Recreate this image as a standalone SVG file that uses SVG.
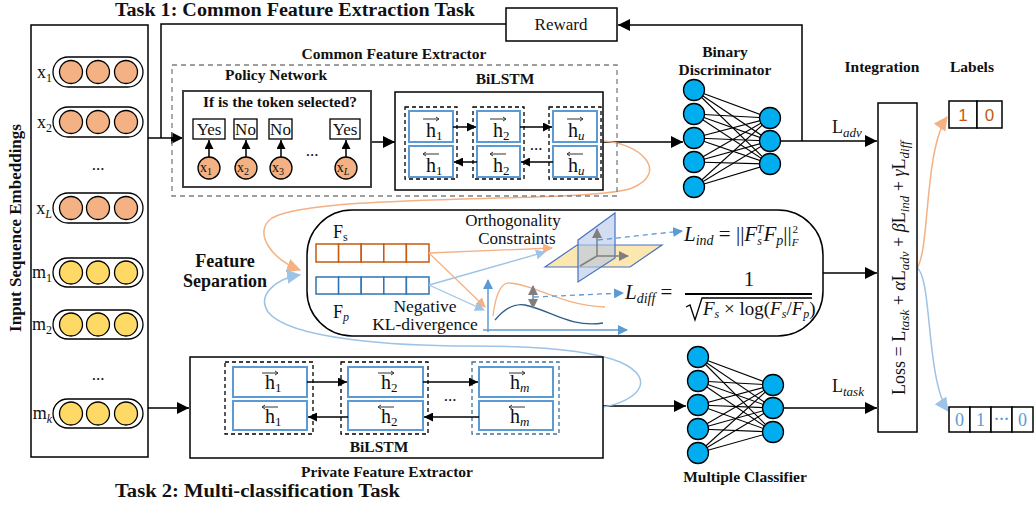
<svg xmlns="http://www.w3.org/2000/svg" xmlns:xlink="http://www.w3.org/1999/xlink" width="1034" height="507" viewBox="0 0 1034 507">
<style>
text{font-family:"Liberation Serif","DejaVu Serif",serif;fill:#111}
.b{font-weight:bold}
.t1{font-size:18.5px;font-weight:bold}
.lb{font-size:15.5px;font-weight:bold}
.r16{font-size:17px}
.h{font-size:20px}
.sb{font-size:12px}
.it{font-style:italic}
.ln{fill:none;stroke:#000;stroke-width:1.5}
.cell{fill:#fff;stroke:#5b9bd5;stroke-width:2}
.grp{fill:none;stroke:#000;stroke-width:1.3;stroke-dasharray:4 3}
.oc{fill:#f4b183;stroke:#000;stroke-width:1.3}
.yc{fill:#ffd966;stroke:#000;stroke-width:1.3}
.nn{fill:#00aeef;stroke:#000;stroke-width:1.3}
.nl{stroke:#000;stroke-width:1.1}
.ocv{fill:none;stroke:#f4b183;stroke-width:1.5}
.bcv{fill:none;stroke:#9dc3e6;stroke-width:1.5}
</style>
<defs>
<marker id="ah" markerUnits="userSpaceOnUse" markerWidth="12" markerHeight="12" refX="12" refY="6" orient="auto"><path d="M0,0 L12,6 L0,12 z" fill="#000"/></marker>
<marker id="as" markerUnits="userSpaceOnUse" markerWidth="9" markerHeight="9" refX="9" refY="4.5" orient="auto"><path d="M0,0 L9,4.5 L0,9 z" fill="#000"/></marker>
<marker id="ao" markerUnits="userSpaceOnUse" markerWidth="14" markerHeight="14" refX="13" refY="7" orient="auto"><path d="M0,0 L14,7 L0,14 z" fill="#f4b183"/></marker>
<marker id="ab" markerUnits="userSpaceOnUse" markerWidth="14" markerHeight="14" refX="13" refY="7" orient="auto"><path d="M0,0 L14,7 L0,14 z" fill="#9dc3e6"/></marker>
<marker id="aos" markerUnits="userSpaceOnUse" markerWidth="10" markerHeight="10" refX="9" refY="5" orient="auto"><path d="M0,0 L10,5 L0,10 z" fill="#f4b183"/></marker>
<marker id="abs" markerUnits="userSpaceOnUse" markerWidth="10" markerHeight="10" refX="9" refY="5" orient="auto"><path d="M0,0 L10,5 L0,10 z" fill="#9dc3e6"/></marker>
<marker id="abd" markerUnits="userSpaceOnUse" markerWidth="10" markerHeight="10" refX="9" refY="5" orient="auto"><path d="M0,0 L10,5 L0,10 z" fill="#5b9bd5"/></marker>
<marker id="ag" markerUnits="userSpaceOnUse" markerWidth="10" markerHeight="10" refX="9" refY="5" orient="auto"><path d="M0,0 L10,5 L0,10 z" fill="#7f7f7f"/></marker>
<marker id="ags" markerUnits="userSpaceOnUse" markerWidth="10" markerHeight="10" refX="1" refY="5" orient="auto"><path d="M10,0 L0,5 L10,10 z" fill="#7f7f7f"/></marker>
<path id="fa" d="M-8,0 H8 M5,-2 L8,0 L5,2" fill="none" stroke="#333" stroke-width="1"/>
<path id="ba" d="M8,0 H-8 M-5,-2 L-8,0 L-5,2" fill="none" stroke="#333" stroke-width="1"/>
</defs>
<rect width="1034" height="507" fill="#fff"/>

<!-- titles -->
<text class="t1" x="115" y="16" textLength="360" lengthAdjust="spacingAndGlyphs">Task 1: Common Feature Extraction Task</text>
<text class="t1" x="115" y="497" textLength="285" lengthAdjust="spacingAndGlyphs">Task 2: Multi-classification Task</text>

<!-- connectors -->
<g id="connectors">
<polyline class="ln" points="506,24 161,24 161,138"/>
<line class="ln" x1="148" y1="138" x2="183" y2="138" marker-end="url(#ah)"/>
<line class="ln" x1="371" y1="142" x2="395" y2="142" marker-end="url(#ah)"/>
<line class="ln" x1="603" y1="142" x2="683" y2="142" marker-end="url(#ah)"/>
<line class="ln" x1="780" y1="141" x2="877" y2="141" marker-end="url(#ah)"/>
<polyline class="ln" points="802,141 802,25 618,25" marker-end="url(#ah)"/>
<line class="ln" x1="143" y1="408" x2="189" y2="408" marker-end="url(#ah)"/>
<line class="ln" x1="603" y1="406" x2="686" y2="406" marker-end="url(#ah)"/>
<line class="ln" x1="783" y1="408" x2="877" y2="408" marker-end="url(#ah)"/>
<line class="ln" x1="823" y1="273" x2="877" y2="273" marker-end="url(#ah)"/>
<path class="ocv" d="M603,141 C640,143 670,172 632,188 C590,204 320,192 272,218 C252,232 272,260 300,270" marker-end="url(#ao)"/>
<path class="bcv" d="M603,407 C635,402 660,380 620,362 C585,348 520,346 470,346 C400,346 290,340 268,312 C256,294 278,278 300,275" marker-end="url(#ab)"/>
<path class="ocv" d="M917,268 C930,250 924,150 947,117" marker-end="url(#ao)"/>
<path class="bcv" d="M917,268 C932,276 926,380 948,411" marker-end="url(#ab)"/>
<text font-size="18" x="832" y="133">L<tspan class="it" font-size="13" dy="4">adv</tspan></text>
<text font-size="18" x="832" y="392">L<tspan class="it" font-size="13" dy="4">task</tspan></text>
</g>

<!-- input panel -->
<g id="input-embeddings">
<rect x="31" y="25" width="117" height="432" fill="#fff" stroke="#000" stroke-width="1.5"/>
<text class="b" font-size="17" transform="translate(21,228) rotate(-90)" text-anchor="middle">Input Sequence Embeddings</text>
<rect x="53" y="57" width="90" height="30" rx="15" fill="#fff" stroke="#000" stroke-width="1.3"/>
<circle class="oc" cx="71" cy="72" r="11.5"/><circle class="oc" cx="98" cy="72" r="11.5"/><circle class="oc" cx="126" cy="72" r="11.5"/>
<text font-size="18" x="52" y="78" text-anchor="end">x<tspan class="sb" dy="4">1</tspan></text>
<rect x="53" y="107" width="90" height="30" rx="15" fill="#fff" stroke="#000" stroke-width="1.3"/>
<circle class="oc" cx="71" cy="122" r="11.5"/><circle class="oc" cx="98" cy="122" r="11.5"/><circle class="oc" cx="126" cy="122" r="11.5"/>
<text font-size="18" x="52" y="128" text-anchor="end">x<tspan class="sb" dy="4">2</tspan></text>
<text class="r16" x="98" y="170" text-anchor="middle">...</text>
<rect x="53" y="193" width="90" height="30" rx="15" fill="#fff" stroke="#000" stroke-width="1.3"/>
<circle class="oc" cx="71" cy="208" r="11.5"/><circle class="oc" cx="98" cy="208" r="11.5"/><circle class="oc" cx="126" cy="208" r="11.5"/>
<text font-size="18" x="52" y="214" text-anchor="end">x<tspan class="sb it" dy="4">L</tspan></text>
<rect x="53" y="258" width="90" height="29" rx="14.5" fill="#fff" stroke="#000" stroke-width="1.3"/>
<circle class="yc" cx="71" cy="272.5" r="11.5"/><circle class="yc" cx="98" cy="272.5" r="11.5"/><circle class="yc" cx="126" cy="272.5" r="11.5"/>
<text font-size="18" x="52" y="278" text-anchor="end">m<tspan class="sb" dy="4">1</tspan></text>
<rect x="53" y="310" width="90" height="29" rx="14.5" fill="#fff" stroke="#000" stroke-width="1.3"/>
<circle class="yc" cx="71" cy="324.5" r="11.5"/><circle class="yc" cx="98" cy="324.5" r="11.5"/><circle class="yc" cx="126" cy="324.5" r="11.5"/>
<text font-size="18" x="52" y="330" text-anchor="end">m<tspan class="sb" dy="4">2</tspan></text>
<text class="r16" x="98" y="380" text-anchor="middle">...</text>
<rect x="53" y="399" width="90" height="29" rx="14.5" fill="#fff" stroke="#000" stroke-width="1.3"/>
<circle class="yc" cx="71" cy="413.5" r="11.5"/><circle class="yc" cx="98" cy="413.5" r="11.5"/><circle class="yc" cx="126" cy="413.5" r="11.5"/>
<text font-size="18" x="52" y="419" text-anchor="end">m<tspan class="sb it" dy="4">k</tspan></text>
</g>

<!-- reward -->
<g id="reward">
<rect x="506" y="8" width="111" height="33" fill="#fff" stroke="#000" stroke-width="1.5"/>
<text class="r16" x="561" y="30" text-anchor="middle">Reward</text>
</g>

<!-- common feature extractor -->
<g id="common-feature-extractor">
<rect x="172" y="65" width="445" height="131" fill="none" stroke="#7f7f7f" stroke-width="1.3" stroke-dasharray="5 4"/>
<text class="lb" x="394" y="59" text-anchor="middle">Common Feature Extractor</text>
</g>

<g id="policy-network">
<text class="lb" x="276" y="80" text-anchor="middle">Policy Network</text>
<rect x="183" y="91" width="188" height="96" fill="#fff" stroke="#404040" stroke-width="2"/>
<text class="b" font-size="15.5" x="280" y="107" text-anchor="middle">If is the token selected?</text>
<rect x="193" y="119" width="32" height="20" fill="#fff" stroke="#000" stroke-width="1.3"/>
<rect x="234" y="119" width="23" height="20" fill="#fff" stroke="#000" stroke-width="1.3"/>
<rect x="269" y="119" width="23" height="20" fill="#fff" stroke="#000" stroke-width="1.3"/>
<rect x="330" y="119" width="30" height="20" fill="#fff" stroke="#000" stroke-width="1.3"/>
<text class="r16" x="209" y="135" text-anchor="middle">Yes</text>
<text class="r16" x="245.5" y="135" text-anchor="middle">No</text>
<text class="r16" x="280.5" y="135" text-anchor="middle">No</text>
<text class="r16" x="345" y="135" text-anchor="middle">Yes</text>
<line class="ln" x1="209" y1="157" x2="209" y2="140" marker-end="url(#as)"/>
<line class="ln" x1="246" y1="157" x2="246" y2="140" marker-end="url(#as)"/>
<line class="ln" x1="281" y1="157" x2="281" y2="140" marker-end="url(#as)"/>
<line class="ln" x1="346" y1="157" x2="346" y2="140" marker-end="url(#as)"/>
<circle class="oc" cx="209" cy="168" r="11"/><circle class="oc" cx="246" cy="168" r="11"/><circle class="oc" cx="281" cy="168" r="11"/><circle class="oc" cx="346" cy="168" r="11"/>
<text font-size="14" x="206" y="172" text-anchor="middle">x<tspan font-size="10" dy="3">1</tspan></text>
<text font-size="14" x="243" y="172" text-anchor="middle">x<tspan font-size="10" dy="3">2</tspan></text>
<text font-size="14" x="278" y="172" text-anchor="middle">x<tspan font-size="10" dy="3">3</tspan></text>
<text font-size="14" x="343" y="172" text-anchor="middle">x<tspan font-size="10" class="it" dy="3">L</tspan></text>
<text class="r16" x="312" y="156" text-anchor="middle">...</text>
</g>

<g id="bilstm-common">
<text class="lb" x="505" y="84" text-anchor="middle">BiLSTM</text>
<rect x="395" y="92" width="208" height="98" fill="#fff" stroke="#000" stroke-width="1.5"/>
<rect class="grp" x="405" y="107" width="52" height="72"/>
<rect class="grp" x="473" y="107" width="51" height="72"/>
<rect class="grp" x="549" y="107" width="52" height="72"/>
<rect class="cell" x="409" y="111" width="44" height="31"/><rect class="cell" x="409" y="146" width="44" height="31"/>
<rect class="cell" x="477" y="111" width="43" height="31"/><rect class="cell" x="477" y="146" width="43" height="31"/>
<rect class="cell" x="553" y="111" width="44" height="31"/><rect class="cell" x="553" y="146" width="44" height="31"/>
<line class="ln" x1="453" y1="127" x2="476" y2="127" marker-end="url(#as)"/>
<line class="ln" x1="520" y1="127" x2="552" y2="127" marker-end="url(#as)"/>
<line class="ln" x1="477" y1="162" x2="454" y2="162" marker-end="url(#as)"/>
<line class="ln" x1="553" y1="162" x2="521" y2="162" marker-end="url(#as)"/>
<text class="r16" x="536" y="150" text-anchor="middle">...</text>
<use href="#fa" x="431" y="119"/><use href="#ba" x="431" y="154"/>
<use href="#fa" x="498" y="119"/><use href="#ba" x="498" y="154"/>
<use href="#fa" x="575" y="119"/><use href="#ba" x="575" y="154"/>
<text class="h" x="426" y="137">h<tspan font-size="13" dy="3">1</tspan></text>
<text class="h" x="426" y="172">h<tspan font-size="13" dy="3">1</tspan></text>
<text class="h" x="493" y="137">h<tspan font-size="13" dy="3">2</tspan></text>
<text class="h" x="493" y="172">h<tspan font-size="13" dy="3">2</tspan></text>
<text class="h" x="568" y="137">h<tspan class="it" font-size="13" dy="3">u</tspan></text>
<text class="h" x="568" y="172">h<tspan class="it" font-size="13" dy="3">u</tspan></text>
</g>

<!-- binary discriminator -->
<g id="binary-discriminator">
<text class="lb" x="725" y="57" text-anchor="middle">Binary</text>
<text class="lb" x="725" y="75" text-anchor="middle">Discriminator</text>
<g class="nl">
<line x1="694" y1="90" x2="770" y2="118"/><line x1="694" y1="90" x2="770" y2="141"/><line x1="694" y1="90" x2="770" y2="164"/>
<line x1="694" y1="114" x2="770" y2="118"/><line x1="694" y1="114" x2="770" y2="141"/><line x1="694" y1="114" x2="770" y2="164"/>
<line x1="694" y1="138" x2="770" y2="118"/><line x1="694" y1="138" x2="770" y2="141"/><line x1="694" y1="138" x2="770" y2="164"/>
<line x1="694" y1="162" x2="770" y2="118"/><line x1="694" y1="162" x2="770" y2="141"/><line x1="694" y1="162" x2="770" y2="164"/>
<line x1="694" y1="187" x2="770" y2="118"/><line x1="694" y1="187" x2="770" y2="141"/><line x1="694" y1="187" x2="770" y2="164"/>
</g>
<circle class="nn" cx="694" cy="90" r="10.5"/><circle class="nn" cx="694" cy="114" r="10.5"/><circle class="nn" cx="694" cy="138" r="10.5"/><circle class="nn" cx="694" cy="162" r="10.5"/><circle class="nn" cx="694" cy="187" r="10.5"/>
<circle class="nn" cx="770" cy="118" r="10.5"/><circle class="nn" cx="770" cy="141" r="10.5"/><circle class="nn" cx="770" cy="164" r="10.5"/>
</g>

<!-- multiple classifier -->
<g id="multiple-classifier">
<text class="lb" x="745" y="482" text-anchor="middle">Multiple Classifier</text>
<g class="nl">
<line x1="698" y1="357" x2="773" y2="385"/><line x1="698" y1="357" x2="773" y2="408"/><line x1="698" y1="357" x2="773" y2="432"/>
<line x1="698" y1="381" x2="773" y2="385"/><line x1="698" y1="381" x2="773" y2="408"/><line x1="698" y1="381" x2="773" y2="432"/>
<line x1="698" y1="405" x2="773" y2="385"/><line x1="698" y1="405" x2="773" y2="408"/><line x1="698" y1="405" x2="773" y2="432"/>
<line x1="698" y1="429" x2="773" y2="385"/><line x1="698" y1="429" x2="773" y2="408"/><line x1="698" y1="429" x2="773" y2="432"/>
<line x1="698" y1="453" x2="773" y2="385"/><line x1="698" y1="453" x2="773" y2="408"/><line x1="698" y1="453" x2="773" y2="432"/>
</g>
<circle class="nn" cx="698" cy="357" r="10.5"/><circle class="nn" cx="698" cy="381" r="10.5"/><circle class="nn" cx="698" cy="405" r="10.5"/><circle class="nn" cx="698" cy="429" r="10.5"/><circle class="nn" cx="698" cy="453" r="10.5"/>
<circle class="nn" cx="773" cy="385" r="10.5"/><circle class="nn" cx="773" cy="408" r="10.5"/><circle class="nn" cx="773" cy="432" r="10.5"/>
</g>

<!-- private feature extractor -->
<g id="private-feature-extractor">
<rect x="190" y="357" width="413" height="101" fill="#fff" stroke="#000" stroke-width="1.5"/>
<text class="lb" x="379" y="452" text-anchor="middle">BiLSTM</text>
<text class="lb" x="387" y="477" text-anchor="middle">Private Feature Extractor</text>
<rect class="grp" x="225" y="362" width="88" height="72"/>
<rect class="grp" x="341" y="362" width="87" height="72"/>
<rect x="472" y="362" width="87" height="72" fill="none" stroke="#41719c" stroke-width="1.3" stroke-dasharray="4 3"/>
<rect class="cell" x="233" y="367" width="74" height="30"/><rect class="cell" x="233" y="401" width="74" height="29"/>
<rect class="cell" x="348" y="367" width="75" height="30"/><rect class="cell" x="348" y="401" width="75" height="29"/>
<rect class="cell" x="479" y="367" width="74" height="30"/><rect class="cell" x="479" y="401" width="74" height="29"/>
<line class="ln" x1="307" y1="382" x2="347" y2="382" marker-end="url(#as)"/>
<line class="ln" x1="423" y1="382" x2="478" y2="382" marker-end="url(#as)"/>
<line class="ln" x1="348" y1="417" x2="308" y2="417" marker-end="url(#as)"/>
<line class="ln" x1="479" y1="417" x2="424" y2="417" marker-end="url(#as)"/>
<text class="r16" x="450" y="401" text-anchor="middle">...</text>
<use href="#fa" x="270" y="373"/><use href="#ba" x="270" y="407"/>
<use href="#fa" x="386" y="373"/><use href="#ba" x="386" y="407"/>
<use href="#fa" x="517" y="373"/><use href="#ba" x="517" y="407"/>
<text class="h" x="265" y="389">h<tspan font-size="13" dy="3">1</tspan></text>
<text class="h" x="265" y="423">h<tspan font-size="13" dy="3">1</tspan></text>
<text class="h" x="381" y="389">h<tspan font-size="13" dy="3">2</tspan></text>
<text class="h" x="381" y="423">h<tspan font-size="13" dy="3">2</tspan></text>
<text class="h" x="510" y="389">h<tspan class="it" font-size="13" dy="3">m</tspan></text>
<text class="h" x="510" y="423">h<tspan class="it" font-size="13" dy="3">m</tspan></text>
</g>

<!-- feature separation -->
<g id="feature-separation">
<text class="b" font-size="18" x="225" y="267" text-anchor="middle">Feature</text>
<text class="b" font-size="18" x="225" y="287" text-anchor="middle">Separation</text>
<rect x="307" y="210" width="516" height="126" rx="45" fill="none" stroke="#000" stroke-width="1.5"/>
<text font-size="18" x="333" y="238">F<tspan class="sb" dy="3">s</tspan></text>
<text font-size="18" x="333" y="318">F<tspan class="sb it" dy="3">p</tspan></text>
<g fill="#fff" stroke="#c55a11" stroke-width="1.5">
<rect x="316" y="244" width="22.6" height="18"/><rect x="338.6" y="244" width="22.6" height="18"/><rect x="361.2" y="244" width="22.6" height="18"/><rect x="383.8" y="244" width="22.6" height="18"/><rect x="406.4" y="244" width="22.6" height="18"/>
</g>
<g fill="#fff" stroke="#2e75b6" stroke-width="1.5">
<rect x="316" y="277" width="22.6" height="17"/><rect x="338.6" y="277" width="22.6" height="17"/><rect x="361.2" y="277" width="22.6" height="17"/><rect x="383.8" y="277" width="22.6" height="17"/><rect x="406.4" y="277" width="22.6" height="17"/>
</g>
<text font-size="17.5" x="425" y="312" text-anchor="middle">Negative</text>
<text font-size="17.5" x="425" y="330" text-anchor="middle">KL-divergence</text>
<text font-size="17" x="513" y="226" text-anchor="middle">Orthogonality</text>
<text font-size="17" x="517" y="244" text-anchor="middle">Constraints</text>
<line x1="429" y1="253" x2="552" y2="248" stroke="#f4b183" stroke-width="1.3" marker-end="url(#aos)"/>
<line x1="429" y1="285" x2="545" y2="252" stroke="#9dc3e6" stroke-width="1.3" marker-end="url(#abs)"/>
<line x1="429" y1="253" x2="485" y2="307" stroke="#f4b183" stroke-width="1.3" marker-end="url(#aos)"/>
<line x1="429" y1="285" x2="484" y2="310" stroke="#9dc3e6" stroke-width="1.3" marker-end="url(#abs)"/>
<!-- planes -->
<polygon points="545,267 577,245 662,245 630,267" fill="#fde7b0" stroke="#4472c4" stroke-width="1.2"/>
<polygon points="578,240 615,213 615,258 578,282" fill="#b4c7e7" fill-opacity="0.6" stroke="#4472c4" stroke-width="1.2"/>
<line x1="597" y1="256" x2="597" y2="229" stroke="#7f7f7f" stroke-width="1.5" marker-end="url(#ag)"/>
<line x1="597" y1="256" x2="628" y2="256" stroke="#7f7f7f" stroke-width="1.5" marker-end="url(#ag)"/>
<line x1="597" y1="256" x2="580" y2="266" stroke="#7f7f7f" stroke-width="1.5"/>
<line x1="598" y1="240" x2="682" y2="231" stroke="#5b9bd5" stroke-width="1.3" stroke-dasharray="5 4" marker-end="url(#abd)"/>
<!-- chart -->
<line x1="488" y1="332" x2="488" y2="280" stroke="#5b9bd5" stroke-width="1.5" marker-end="url(#abd)"/>
<line x1="483" y1="330" x2="627" y2="330" stroke="#5b9bd5" stroke-width="1.5" marker-end="url(#abd)"/>
<path d="M493,316 C496,290 503,282 510,283 C540,286 560,305 605,307" fill="none" stroke="#f4b183" stroke-width="1.3"/>
<path d="M495,320 C505,308 515,303 525,305 C550,310 570,328 603,323" fill="none" stroke="#2e5f8a" stroke-width="1.3"/>
<line x1="533" y1="286" x2="533" y2="308" stroke="#7f7f7f" stroke-width="1.5" marker-start="url(#ags)" marker-end="url(#ag)"/>
<line x1="534" y1="297" x2="623" y2="293" stroke="#5b9bd5" stroke-width="1.3" stroke-dasharray="5 4" marker-end="url(#abd)"/>
<!-- formulas -->
<text font-size="21" x="684" y="241"><tspan class="it">L</tspan><tspan class="it" font-size="14" dy="4">ind</tspan><tspan dy="-4"> = ||</tspan><tspan class="it">F</tspan><tspan class="it" font-size="12" dy="4">s</tspan><tspan class="it" font-size="12" dx="-5" dy="-12">T</tspan><tspan class="it" dy="8">F</tspan><tspan class="it" font-size="14" dy="4">p</tspan><tspan dy="-4">||</tspan><tspan class="it" font-size="11" dy="5">F</tspan><tspan font-size="11" dx="-6" dy="-13">2</tspan></text>
<text font-size="21" x="625" y="299"><tspan class="it">L</tspan><tspan class="it" font-size="14" dy="4">diff</tspan><tspan dy="-4"> =</tspan></text>
<text font-size="21" x="749" y="286" text-anchor="middle">1</text>
<line x1="685" y1="294" x2="812" y2="294" stroke="#000" stroke-width="2"/>
<path d="M686,307 L690,305 L695,320 L702,298 L812,298" fill="none" stroke="#000" stroke-width="1.3"/>
<text font-size="19" x="703" y="315"><tspan class="it">F</tspan><tspan class="it" font-size="12" dy="3">s</tspan><tspan dy="-3"> × log(</tspan><tspan class="it">F</tspan><tspan class="it" font-size="12" dy="3">s</tspan><tspan dy="-3">/</tspan><tspan class="it">F</tspan><tspan class="it" font-size="12" dy="3">p</tspan><tspan dy="-3">)</tspan></text>
</g>

<!-- integration -->
<g id="integration">
<text class="lb" x="882" y="72" text-anchor="middle">Integration</text>
<rect x="878" y="103" width="39" height="329" fill="#fff" stroke="#000" stroke-width="1.5"/>
<text font-size="18" transform="translate(905,268) rotate(-90)" text-anchor="middle">Loss = L<tspan class="it" font-size="13" dy="4">task</tspan><tspan dy="-4"> + </tspan><tspan class="it">α</tspan>L<tspan class="it" font-size="13" dy="4">adv</tspan><tspan dy="-4"> + </tspan><tspan class="it">β</tspan>L<tspan class="it" font-size="13" dy="4">ind</tspan><tspan dy="-4"> + </tspan><tspan class="it">γ</tspan>L<tspan class="it" font-size="13" dy="4">diff</tspan></text>
</g>

<!-- labels -->
<g id="labels">
<text class="lb" x="972" y="72" text-anchor="middle">Labels</text>
<rect x="949" y="101" width="28" height="27" fill="#fff" stroke="#000" stroke-width="1.5"/>
<rect x="977" y="101" width="25" height="27" fill="#fff" stroke="#000" stroke-width="1.5"/>
<text x="963" y="121" font-size="17" text-anchor="middle" style="font-family:'Liberation Sans',sans-serif;fill:#c55a11">1</text>
<text x="989.5" y="121" font-size="17" text-anchor="middle" style="font-family:'Liberation Sans',sans-serif;fill:#c55a11">0</text>
<rect x="949" y="407" width="21" height="25" fill="#fff" stroke="#000" stroke-width="1.5"/>
<rect x="970" y="407" width="21" height="25" fill="#fff" stroke="#000" stroke-width="1.5"/>
<rect x="991" y="407" width="21" height="25" fill="#fff" stroke="#000" stroke-width="1.5"/>
<rect x="1012" y="407" width="21" height="25" fill="#fff" stroke="#000" stroke-width="1.5"/>
<text x="959.5" y="426" font-size="18" text-anchor="middle" style="fill:#5b9bd5">0</text>
<text x="980.5" y="426" font-size="18" text-anchor="middle" style="fill:#5b9bd5">1</text>
<text x="1001.5" y="424" font-size="15" font-weight="bold" text-anchor="middle" style="fill:#5b9bd5">···</text>
<text x="1022.5" y="426" font-size="18" text-anchor="middle" style="fill:#5b9bd5">0</text>
</g>
</svg>
